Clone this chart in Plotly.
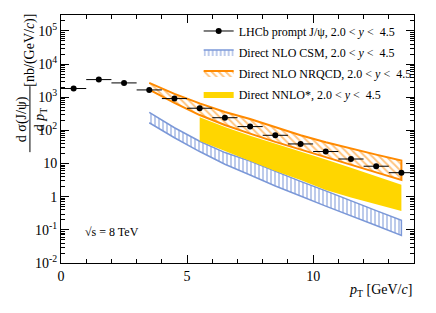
import plotly.graph_objects as go

# ---------------- data ----------------
pt_bins = [0.5, 1.5, 2.5, 3.5, 4.5, 5.5, 6.5, 7.5, 8.5, 9.5, 10.5, 11.5, 12.5, 13.5]
pt_halfwidth = [0.5] * 14
lhcb_xsec = [1830, 3400, 2700, 1660, 910, 466, 241, 130, 71, 39, 23, 13.7, 8.3, 5.3]

band_pt = [3.5, 4.5, 5.5, 6.5, 7.5, 8.5, 9.5, 10.5, 11.5, 12.5, 13.5]
nrqcd_hi = [2700, 1260, 650, 360, 220, 123, 71, 44, 28, 18.6, 12.3]
nrqcd_lo = [1700, 680, 290, 145, 80, 45, 26, 15.5, 9.1, 5.4, 3.2]
csm_hi = [350, 120, 47, 21.4, 11.8, 5.8, 2.9, 1.5, 0.74, 0.38, 0.195]
csm_lo = [170, 60, 23, 9.5, 4.5, 2.1, 1.05, 0.52, 0.26, 0.135, 0.068]

nnlo_pt = [5.5, 6.5, 7.5, 8.5, 9.5, 10.5, 11.5, 12.5, 13.5]
nnlo_hi = [250, 126, 69, 40, 23.4, 13.2, 7.4, 4.1, 2.3]
nnlo_lo = [48, 24, 12, 6.0, 3.2, 1.6, 0.95, 0.59, 0.37]

ytick_vals = [0.01, 0.1, 1, 10, 100, 1e3, 1e4, 1e5]
ytick_text = ["10<sup>-2</sup>", "10<sup>-1</sup>", "1", "10", "10<sup>2</sup>",
              "10<sup>3</sup>", "10<sup>4</sup>", "10<sup>5</sup>"]
xtick_vals = [0, 5, 10]

BLUE = "#7b98d8"
ORANGE = "#ff8a00"
YELLOW = "#ffd600"
SERIF = "Liberation Serif"

fig = go.Figure()

def band(xs, hi, lo):
    return xs + xs[::-1], hi + lo[::-1]

# CSM band (blue, vertical hatch)
bx, by = band(band_pt, csm_hi, csm_lo)
fig.add_trace(go.Scatter(
    x=bx, y=by, fill="toself", mode="lines",
    line=dict(color=BLUE, width=1.5),
    fillcolor="rgba(255,255,255,0)",
    fillpattern=dict(shape="|", fgcolor=BLUE, bgcolor="white", size=4, solidity=0.5),
    name="Direct NLO CSM, 2.0 &lt; <i>y</i> &lt;  4.5", legendrank=2, legendgroup="b",
))

# NNLO* band (yellow solid)
bx, by = band(nnlo_pt, nnlo_hi, nnlo_lo)
fig.add_trace(go.Scatter(
    x=bx, y=by, fill="toself", mode="lines",
    line=dict(color=YELLOW, width=0), fillcolor=YELLOW,
    name="Direct NNLO*, 2.0 &lt; <i>y</i> &lt;  4.5", legendrank=4, legendgroup="d",
))

# NRQCD band (orange, diagonal hatch)
bx, by = band(band_pt, nrqcd_hi, nrqcd_lo)
fig.add_trace(go.Scatter(
    x=bx, y=by, fill="toself", mode="lines",
    line=dict(color=ORANGE, width=2),
    fillcolor="rgba(255,255,255,0)",
    fillpattern=dict(shape="\\", fgcolor=ORANGE, bgcolor="white", size=5, solidity=0.4),
    name="Direct NLO NRQCD, 2.0 &lt; <i>y</i> &lt;  4.5", legendrank=3, legendgroup="c",
))

# LHCb data
fig.add_trace(go.Scatter(
    x=pt_bins, y=lhcb_xsec, mode="markers",
    marker=dict(color="black", size=6),
    error_x=dict(type="data", array=pt_halfwidth, color="black", thickness=1, width=0),
    showlegend=False,
))
fig.add_trace(go.Scatter(
    x=[None], y=[None], mode="lines+markers",
    marker=dict(color="black", size=6), line=dict(color="black", width=1),
    name="LHCb prompt J/ψ, 2.0 &lt; <i>y</i> &lt;  4.5", legendrank=1, legendgroup="a",
))

axis_common = dict(
    showline=True, linecolor="black", linewidth=1, mirror="allticks",
    ticks="inside", ticklen=8, tickcolor="black", showgrid=False, zeroline=False,
    automargin=False,
    tickfont=dict(family=SERIF, size=14, color="black"),
)

fig.update_xaxes(range=[0, 14], tickvals=xtick_vals,
                 minor=dict(ticks="inside", ticklen=4, dtick=1, tickcolor="black", showgrid=False),
                 **axis_common)
minor_y = [m * 10 ** e for e in range(-2, 6) for m in range(2, 10)]
fig.update_yaxes(type="log", range=[-2, 5.48], tickvals=ytick_vals, ticktext=ytick_text,
                 minor=dict(ticks="inside", ticklen=4, tickmode="array", tickvals=minor_y,
                            tickcolor="black", showgrid=False),
                 **axis_common)

# page body has an 8px default margin: compensate in figure size/margins
fig.update_layout(
    width=428, height=305,
    margin=dict(l=53, r=22, t=7, b=50),
    plot_bgcolor="white", paper_bgcolor="white",
    font=dict(family=SERIF, color="black"),
    legend=dict(x=0.39, y=0.994, xanchor="left", yanchor="top",
                bgcolor="rgba(0,0,0,0)", font=dict(family=SERIF, size=12),
                itemwidth=30, traceorder="grouped", tracegroupgap=2),
)

# y-axis title built as a rotated fraction
fig.add_annotation(text="d σ(J/ψ)", x=-0.1105, y=0.58, xref="paper", yref="paper",
                   textangle=-90, showarrow=False, xanchor="center", yanchor="middle",
                   font=dict(family=SERIF, size=14))
fig.add_annotation(text="d <i>p</i><sub>T</sub>", x=-0.0595, y=0.58, xref="paper", yref="paper",
                   textangle=-90, showarrow=False, xanchor="center", yanchor="middle",
                   font=dict(family=SERIF, size=14))
fig.add_annotation(text="[nb/(GeV/<i>c</i>)]", x=-0.088, y=0.86, xref="paper", yref="paper",
                   textangle=-90, showarrow=False, xanchor="center", yanchor="middle",
                   font=dict(family=SERIF, size=14))
fig.add_shape(type="line", xref="paper", yref="paper", x0=-0.088, x1=-0.088,
              y0=0.447, y1=0.713, line=dict(color="black", width=1))

fig.add_annotation(text="<i>p</i><sub>T</sub> [GeV/<i>c</i>]", x=1.0, y=-0.11,
                   xref="paper", yref="paper", showarrow=False, xanchor="right",
                   yanchor="middle", font=dict(family=SERIF, size=14))
fig.add_annotation(text="√s = 8 TeV", x=0.062, y=0.125, xref="paper", yref="paper",
                   showarrow=False, xanchor="left", yanchor="middle",
                   font=dict(family=SERIF, size=12))

fig.write_html("out.html")
